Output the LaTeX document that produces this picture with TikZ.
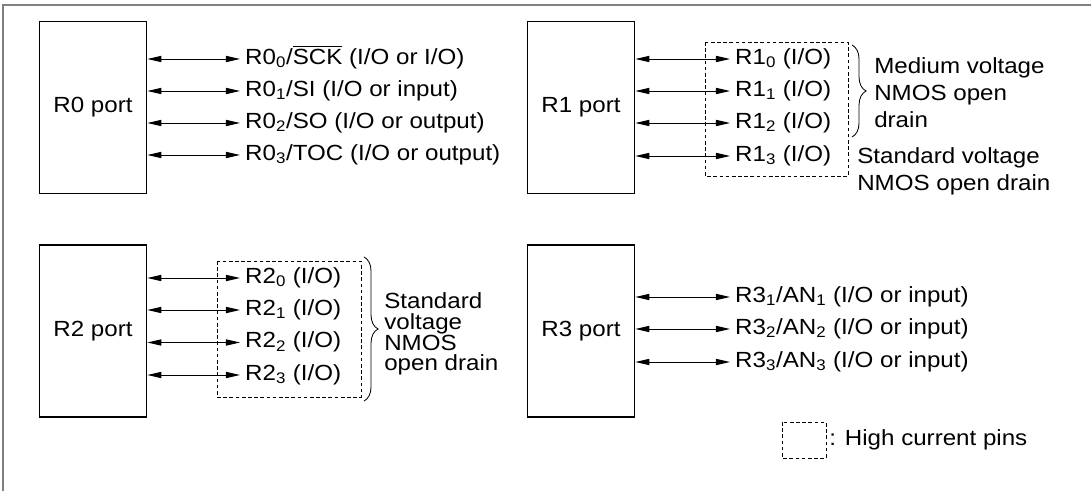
\documentclass[tikz,border=0pt]{standalone}
\usepackage{fontspec}
\setmainfont{Liberation Sans}[FakeStretch=1.1]
\usetikzlibrary{arrows.meta,decorations.pathreplacing}

\begin{document}
\begin{tikzpicture}[x=0.025cm,y=-0.025cm,
    font=\fontsize{15.6}{19}\selectfont,
    portbox/.style={draw,line width=0.8pt,minimum width=2.69cm,minimum height=4.3cm},
    pinlbl/.style={anchor=west,inner sep=3.5pt,text height=0.72em,text depth=0pt},
    pinarrow/.style={{Triangle[length=10pt,width=4.4pt]}-{Triangle[length=10pt,width=4.4pt]},line width=0.7pt},
    hcbox/.style={dash pattern=on 2.6pt off 1.8pt,line width=0.5pt},
    grpbrace/.style={decorate,decoration={brace,amplitude=10pt},line width=0.6pt},
    note/.style={anchor=west,align=left,inner sep=0pt}]
  \useasboundingbox (0,0) rectangle (1091,491);
  \draw[gray,line width=1.4pt] (3,491) -- (3,5) -- (1091,5);

  % R0 port
  \node[portbox] (r0) at (93,107.5) {R0 port};
  \node[pinlbl] (r0p0) at (240,59) {R0\textsubscript{0}/$\overline{\mbox{SCK}}$ (I/O or I/O)};
  \node[pinlbl] (r0p1) at (240,91) {R0\textsubscript{1}/SI (I/O or input)};
  \node[pinlbl] (r0p2) at (240,123) {R0\textsubscript{2}/SO (I/O or output)};
  \node[pinlbl] (r0p3) at (240,155) {R0\textsubscript{3}/TOC (I/O or output)};
  \draw[pinarrow] (r0.east |- r0p0.west) -- (r0p0.west);
  \draw[pinarrow] (r0.east |- r0p1.west) -- (r0p1.west);
  \draw[pinarrow] (r0.east |- r0p2.west) -- (r0p2.west);
  \draw[pinarrow] (r0.east |- r0p3.west) -- (r0p3.west);

  % R1 port
  \node[portbox] (r1) at (581,107.5) {R1 port};
  \node[pinlbl] (r1p0) at (730,59) {R1\textsubscript{0} (I/O)};
  \node[pinlbl] (r1p1) at (730,91) {R1\textsubscript{1} (I/O)};
  \node[pinlbl] (r1p2) at (730,123) {R1\textsubscript{2} (I/O)};
  \node[pinlbl] (r1p3) at (730,156) {R1\textsubscript{3} (I/O)};
  \draw[pinarrow] (r1.east |- r1p0.west) -- (r1p0.west);
  \draw[pinarrow] (r1.east |- r1p1.west) -- (r1p1.west);
  \draw[pinarrow] (r1.east |- r1p2.west) -- (r1p2.west);
  \draw[pinarrow] (r1.east |- r1p3.west) -- (r1p3.west);
  \draw[hcbox] (705,42) rectangle (848,176);
  \draw[grpbrace] (852,45) -- (852,137);
  \node[note,font=\fontsize{15.6}{19}\selectfont] (r1mv) at (874,92.5) {Medium voltage\\NMOS open\\drain};
  \node[note,font=\fontsize{15.6}{19}\selectfont] (r1sv) at (857,171.5) {Standard voltage\\NMOS open drain};

  % R2 port
  \node[portbox] (r2) at (93,331) {R2 port};
  \node[pinlbl] (r2p0) at (240,278) {R2\textsubscript{0} (I/O)};
  \node[pinlbl] (r2p1) at (240,310) {R2\textsubscript{1} (I/O)};
  \node[pinlbl] (r2p2) at (240,342.5) {R2\textsubscript{2} (I/O)};
  \node[pinlbl] (r2p3) at (240,375) {R2\textsubscript{3} (I/O)};
  \draw[pinarrow] (r2.east |- r2p0.west) -- (r2p0.west);
  \draw[pinarrow] (r2.east |- r2p1.west) -- (r2p1.west);
  \draw[pinarrow] (r2.east |- r2p2.west) -- (r2p2.west);
  \draw[pinarrow] (r2.east |- r2p3.west) -- (r2p3.west);
  \draw[hcbox] (217,261) rectangle (361,397);
  \draw[grpbrace] (364,257) -- (364,401);
  \node[note,font=\fontsize{15.6}{14.7}\selectfont] (r2sv) at (384,334) {Standard\\voltage\\NMOS\\open drain};

  % R3 port
  \node[portbox] (r3) at (581,331) {R3 port};
  \node[pinlbl] (r3p1) at (730,297) {R3\textsubscript{1}/AN\textsubscript{1} (I/O or input)};
  \node[pinlbl] (r3p2) at (730,329) {R3\textsubscript{2}/AN\textsubscript{2} (I/O or input)};
  \node[pinlbl] (r3p3) at (730,362) {R3\textsubscript{3}/AN\textsubscript{3} (I/O or input)};
  \draw[pinarrow] (r3.east |- r3p1.west) -- (r3p1.west);
  \draw[pinarrow] (r3.east |- r3p2.west) -- (r3p2.west);
  \draw[pinarrow] (r3.east |- r3p3.west) -- (r3p3.west);

  % legend
  \draw[hcbox] (782,422) rectangle (826,458);
  \node[note] (hcpins) at (829,440) {: High current pins};
\end{tikzpicture}
\end{document}
